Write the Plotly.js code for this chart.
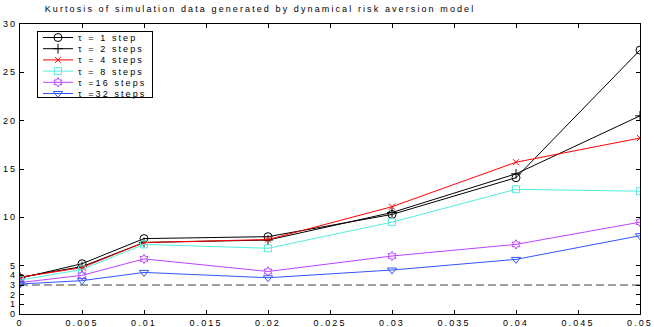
<!DOCTYPE html>
<html>
<head>
<meta charset="utf-8">
<script src="https://cdn.plot.ly/plotly-3.0.1.min.js"></script>
<style>
  html, body { margin: 0; padding: 0; background: #fff; }
  #chart { width: 654px; height: 327px; }
  svg text { letter-spacing: 2.1px; }
</style>
</head>
<body>
<div id="chart"></div>
<script>
// ---- data ----
const xVals = [0, 0.005, 0.01, 0.02, 0.03, 0.04, 0.05];
const tau1  = [3.7, 5.2, 7.8, 8.0, 10.3, 14.1, 27.3];
const tau2  = [3.8, 4.9, 7.4, 7.65, 10.5, 14.5, 20.5];
const tau4  = [3.8, 4.8, 7.4, 7.7, 11.1, 15.7, 18.2];
const tau8  = [3.5, 4.6, 7.2, 6.8, 9.5, 12.9, 12.7];
const tau16 = [3.25, 4.0, 5.7, 4.4, 6.0, 7.2, 9.5];
const tau32 = [3.1, 3.45, 4.3, 3.75, 4.55, 5.65, 8.1];
const seriesNames = ['\u03c4 = 1 step', '\u03c4 = 2 steps', '\u03c4 = 4 steps', '\u03c4 = 8 steps', '\u03c4 =16 steps', '\u03c4 =32 steps'];
const refX = [0, 0.05];
const refY = [3, 3];
const xTickVals = [0, 0.005, 0.01, 0.015, 0.02, 0.025, 0.03, 0.035, 0.04, 0.045, 0.05];
const xTickText = ['0', '0.005', '0.01', '0.015', '0.02', '0.025', '0.03', '0.035', '0.04', '0.045', '0.05'];
const yTickVals = [0, 1, 2, 3, 4, 5, 10, 15, 20, 25, 30];
const yTickText = ['0', '1', '2', '3', '4', '5', '10', '15', '20', '25', '30'];
const titleText = 'Kurtosis of simulation data generated by dynamical risk aversion model';

// ---- styling ----
const allY = [tau1, tau2, tau4, tau8, tau16, tau32];
const colors = ['#000000', '#000000', '#ff0000', '#55eedd', '#bb44ff', '#3355ff'];
const symbols = ['circle-open', 'cross-thin-open', 'x-thin-open', 'square-open', 'hexagram-open', 'triangle-down-open'];
const sizes = [8, 7, 6, 7, 7, 8];

const traces = allY.map((ys, i) => ({
  type: 'scatter', mode: 'lines+markers',
  x: xVals, y: ys, name: seriesNames[i],
  line: { color: colors[i], width: 1 },
  marker: { symbol: symbols[i], size: sizes[i], color: colors[i], line: { color: colors[i], width: 1 } }
}));
traces.push({
  type: 'scatter', mode: 'lines', x: refX, y: refY, showlegend: false,
  line: { color: '#444444', width: 1, dash: '8px,4px' }, hoverinfo: 'skip'
});

const font = { family: 'Liberation Sans, Arial, sans-serif', size: 9, color: '#000' };

const layout = {
  width: 654, height: 327,
  margin: { l: 20, r: 14, t: 24, b: 13, pad: 0 },
  paper_bgcolor: '#fff', plot_bgcolor: '#fff',
  font: font,
  showlegend: true,
  title: { text: titleText, font: font, x: 260 / 654, xref: 'container', xanchor: 'center', y: 1 - 9 / 327, yref: 'container', yanchor: 'middle' },
  xaxis: {
    range: [0, 0.05], tickmode: 'array', tickvals: xTickVals, ticktext: xTickText,
    ticks: 'inside', ticklen: 4, tickcolor: '#000', tickwidth: 1,
    showline: true, linecolor: '#000', linewidth: 1, mirror: 'allticks',
    showgrid: false, zeroline: false, automargin: false, tickfont: font
  },
  yaxis: {
    range: [0, 30], tickmode: 'array', tickvals: yTickVals, ticktext: yTickText,
    ticks: 'inside', ticklen: 4, tickcolor: '#000', tickwidth: 1,
    showline: true, linecolor: '#000', linewidth: 1, mirror: 'allticks',
    showgrid: false, zeroline: false, automargin: false, tickfont: font
  },
  legend: {
    x: 17 / 620, y: (314 - 31) / 290, xanchor: 'left', yanchor: 'top',
    bgcolor: '#fff', bordercolor: '#000', borderwidth: 1, font: font,
    tracegroupgap: 0
  }
};

Plotly.newPlot('chart', traces, layout, { displayModeBar: false, staticPlot: true }).then(() => {
  // compact the legend rows to match the reference spacing
  const leg = document.querySelector('.legend');
  if (!leg) return;
  const items = leg.querySelectorAll('.traces');
  items.forEach((el, i) => {
    el.setAttribute('transform', 'translate(1,' + (6.5 + i * 11.2) + ')');
  });
  const bg = leg.querySelector('rect.bg');
  if (bg) { bg.setAttribute('height', 66); }
});
</script>
</body>
</html>
